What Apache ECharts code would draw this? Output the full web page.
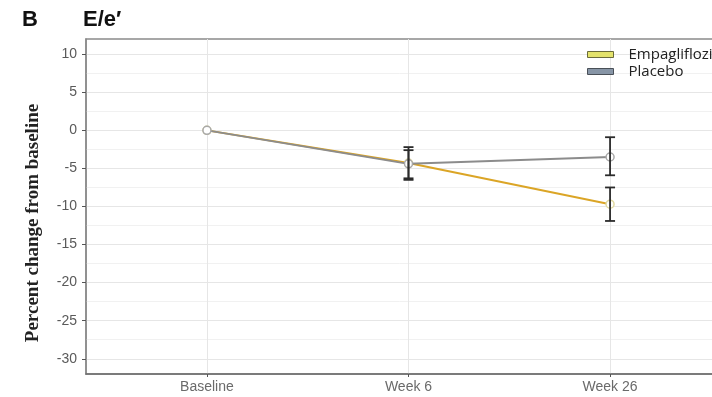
<!DOCTYPE html>
<html>
<head>
<meta charset="utf-8">
<script src="https://cdn.jsdelivr.net/npm/echarts@6/dist/echarts.min.js"></script>
<style>
  html, body { margin: 0; padding: 0; background: #fff; }
  #chart { width: 712px; height: 397px; }
</style>
</head>
<body>
<div id="chart"></div>
<script>
// Visits along the x axis
const categories = ['Baseline', 'Week 6', 'Week 26'];

// Mean percent change of E/e' from baseline, with error bar limits
const empaMean  = [0, -4.3, -9.7];
const empaLow   = [null, -6.3, -11.9];
const empaHigh  = [null, -2.6, -7.5];

const placeboMean = [0, -4.4, -3.5];
const placeboLow  = [null, -6.5, -5.9];
const placeboHigh = [null, -2.2, -0.9];

// Axis ticks
const yTicks = [-30, -25, -20, -15, -10, -5, 0, 5, 10];
const yMinorTicks = [-27.5, -22.5, -17.5, -12.5, -7.5, -2.5, 2.5, 7.5];
const xTicks = [0, 1, 2];

const EMPA_COLOR = '#dba526';
const PLACEBO_COLOR = '#8c8c8c';

function pairs(values) {
  return values.map((v, i) => [i, v]);
}
function errorRows(low, high) {
  const rows = [];
  low.forEach((l, i) => { if (l !== null) rows.push([i, l, high[i]]); });
  return rows;
}

function errorBarSeries(name, rows) {
  return {
    name: name,
    type: 'custom',
    z: 5,
    data: rows,
    renderItem: function (params, api) {
      const x = api.value(0);
      const lo = api.coord([x, api.value(1)]);
      const hi = api.coord([x, api.value(2)]);
      const half = 5;
      const style = { stroke: '#2b2b2b', lineWidth: 1.8 };
      return {
        type: 'group',
        children: [
          { type: 'line', shape: { x1: lo[0], y1: lo[1], x2: hi[0], y2: hi[1] }, style: style },
          { type: 'line', shape: { x1: lo[0] - half, y1: lo[1], x2: lo[0] + half, y2: lo[1] }, style: style },
          { type: 'line', shape: { x1: hi[0] - half, y1: hi[1], x2: hi[0] + half, y2: hi[1] }, style: style }
        ]
      };
    }
  };
}

const chart = echarts.init(document.getElementById('chart'), null, { renderer: 'canvas' });

chart.setOption({
  animation: false,
  backgroundColor: '#fff',
  title: [
    { text: 'B', left: 17, top: 4, textStyle: { fontFamily: 'Liberation Sans', fontWeight: 'bold', fontSize: 22, color: '#111' } },
    { text: 'E/e\u2032', left: 78, top: 4, textStyle: { fontFamily: 'Liberation Sans', fontWeight: 'bold', fontSize: 22, color: '#111' } }
  ],
  graphic: [
    {
      type: 'text',
      x: 33,
      y: 223,
      rotation: Math.PI / 2,
      style: {
        text: 'Percent change from baseline',
        fontFamily: 'Liberation Serif',
        fontWeight: 'bold',
        fontSize: 19,
        fill: '#222',
        align: 'center',
        verticalAlign: 'middle'
      }
    }
  ],
  legend: {
    orient: 'vertical',
    left: 582,
    top: 42,
    itemWidth: 26,
    itemHeight: 6,
    itemGap: 2,
    icon: 'rect',
    textStyle: { fontFamily: 'Open Sans', fontSize: 15, color: '#222', padding: [0, 0, 0, 10] },
    data: [
      { name: 'Empagliflozin', itemStyle: { color: '#e4e36c', borderColor: '#6b6b3a', borderWidth: 1 } },
      { name: 'Placebo', itemStyle: { color: '#8795a6', borderColor: '#4a5058', borderWidth: 1 } }
    ]
  },
  grid: {
    left: 86, top: 39, width: 645, height: 335,
    outerBoundsMode: 'none',
    containLabel: false,
    show: true, borderColor: '#8a8a8a', borderWidth: 1.5, backgroundColor: '#fff'
  },
  xAxis: {
    type: 'value',
    min: -0.6,
    max: 2.6,
    axisLine: { show: true, onZero: false, lineStyle: { color: '#6e6e6e', width: 1.5 } },
    axisTick: { show: true, length: 3, customValues: xTicks, lineStyle: { color: '#555' } },
    axisLabel: {
      customValues: xTicks,
      formatter: v => categories[Math.round(v)],
      color: '#6a6a6a', fontFamily: 'Liberation Sans', fontSize: 14, margin: 6
    },
    splitLine: { show: true, lineStyle: { color: '#e6e6e6', width: 1 } }
  },
  yAxis: [
    {
      type: 'value',
      min: -32,
      max: 12,
      axisLine: { show: true, onZero: false, lineStyle: { color: '#8a8a8a', width: 1.5 } },
      axisTick: { show: true, length: 4, customValues: yTicks, lineStyle: { color: '#555' } },
      axisLabel: { customValues: yTicks, color: '#5a5a5a', fontFamily: 'Liberation Sans', fontSize: 14, margin: 9 },
      splitLine: { show: true, lineStyle: { color: '#e6e6e6', width: 1.2 } }
    },
    {
      type: 'value',
      min: -32,
      max: 12,
      position: 'left',
      axisLine: { show: false, onZero: false },
      axisTick: { show: false, customValues: yMinorTicks },
      axisLabel: { show: false, customValues: yMinorTicks },
      splitLine: { show: true, lineStyle: { color: '#f1f1f1', width: 1 } }
    }
  ],
  series: [
    {
      name: 'Empagliflozin',
      type: 'line',
      data: pairs(empaMean),
      symbol: 'circle',
      symbolSize: 8,
      lineStyle: { color: EMPA_COLOR, width: 2 },
      itemStyle: { color: '#fff', borderColor: '#e0d9a0', borderWidth: 1.5 },
      z: 3
    },
    {
      name: 'Placebo',
      type: 'line',
      data: pairs(placeboMean),
      symbol: 'circle',
      symbolSize: 8,
      lineStyle: { color: PLACEBO_COLOR, width: 2 },
      itemStyle: { color: '#fff', borderColor: '#a8a8a8', borderWidth: 1.5 },
      z: 4
    },
    errorBarSeries('Empagliflozin', errorRows(empaLow, empaHigh)),
    errorBarSeries('Placebo', errorRows(placeboLow, placeboHigh))
  ]
});
</script>
</body>
</html>
